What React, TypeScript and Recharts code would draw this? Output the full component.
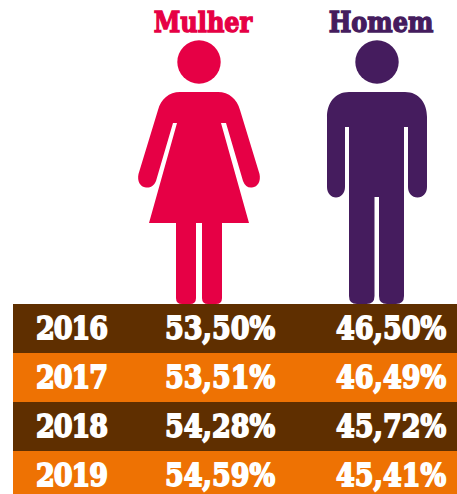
import React from "react";
import { Bar, BarChart, Cell, LabelList, XAxis, YAxis } from "recharts";

const years = ["2016", "2017", "2018", "2019"];
const mulher = [53.5, 53.51, 54.28, 54.59];
const homem = [46.5, 46.49, 45.72, 45.41];
const rowColors = ["#5f2f00", "#ee7203", "#5f2f00", "#ee7203"];

const PINK = "#e60045";
const PURPLE = "#451c5e";
const FONT = "'DejaVu Serif', serif";

const chartData = years.map((year, i) => ({
  year,
  mulher: mulher[i],
  homem: homem[i],
}));

const formatPct = (v: number) => v.toFixed(2).replace(".", ",") + "%";

// labels sit in fixed table columns, not at the bar ends
const columnLabel = (x: number, format?: (v: number) => string, spacing = 0) => (props: any) => (
  <text
    transform={`translate(${x} ${props.y + props.height / 2 + 10.5}) scale(1 1.17)`}
    fill="#fff"
    stroke="#fff"
    strokeWidth={1.5}
    letterSpacing={spacing}
    fontFamily={FONT}
    fontWeight={700}
    fontSize={27}
  >
    {format ? format(props.value) : props.value}
  </text>
);

const Woman = () => (
  <g fill={PINK}>
    <circle cx={199} cy={62} r={21.7} />
    <path d="M180 92 H218 C229 92 237 99 240 110 L259.5 174 C261 181 258 187 252 187.5 C248 188 245 186 243 181 L226 123 H221 L249 223 H149 L177 123 H173 L156 181 C154 186 150 188 146 187.5 C140 187 137 181 138.5 174 L158 110 C161 99 169 92 180 92 Z" />
    <path d="M176 222 H196 V298 Q196 304 190 304 H182 Q176 304 176 298 Z" />
    <path d="M202 222 H222 V298 Q222 304 216 304 H208 Q202 304 202 298 Z" />
  </g>
);

const Man = () => (
  <g fill={PURPLE}>
    <circle cx={377} cy={62} r={21.7} />
    <path d="M349 92 H405 C419 92 427 103 427 117 V187 C427 193 423 197.5 417.5 197.5 C412 197.5 408 193 408 187 V127 H404 V296 Q404 304 396 304 H387 Q379 304 379 296 V197 H374.5 V296 Q374.5 304 366.5 304 H357 Q349 304 349 296 V127 H345 V187 C345 193 341 197.5 336 197.5 C331 197.5 327 193 327 187 V117 C327 103 335 92 349 92 Z" />
  </g>
);

const Title = ({ x, fill, children }: { x: number; fill: string; children: string }) => (
  <text
    transform={`translate(${x} 32) scale(1 1.15)`}
    textAnchor="middle"
    fill={fill}
    stroke={fill}
    strokeWidth={1.2}
    fontFamily={FONT}
    fontWeight={700}
    fontSize={24}
  >
    {children}
  </text>
);

export default function App() {
  return (
    <div style={{ position: "absolute", left: 0, top: 0, width: 457, height: 494, overflow: "hidden" }}>
      {/* last row is cut off by the image edge in the original */}
      <BarChart
        layout="vertical"
        width={457}
        height={500}
        data={chartData}
        barCategoryGap={0}
        margin={{ top: 304, right: 0, bottom: 0, left: 13 }}
      >
        <XAxis type="number" domain={[0, 100]} hide />
        <YAxis type="category" dataKey="year" hide />
        <Bar dataKey="mulher" stackId="row" isAnimationActive={false} shapeRendering="crispEdges">
          {chartData.map((d, i) => (
            <Cell key={d.year} fill={rowColors[i]} />
          ))}
          <LabelList dataKey="year" content={columnLabel(36, undefined, -1)} />
          <LabelList dataKey="mulher" content={columnLabel(165, formatPct)} />
        </Bar>
        <Bar dataKey="homem" stackId="row" isAnimationActive={false} shapeRendering="crispEdges">
          {chartData.map((d, i) => (
            <Cell key={d.year} fill={rowColors[i]} />
          ))}
          <LabelList dataKey="homem" content={columnLabel(336, formatPct)} />
        </Bar>
        <Title x={203} fill={PINK}>Mulher</Title>
        <Title x={381} fill={PURPLE}>Homem</Title>
        <Woman />
        <Man />
      </BarChart>
    </div>
  );
}
